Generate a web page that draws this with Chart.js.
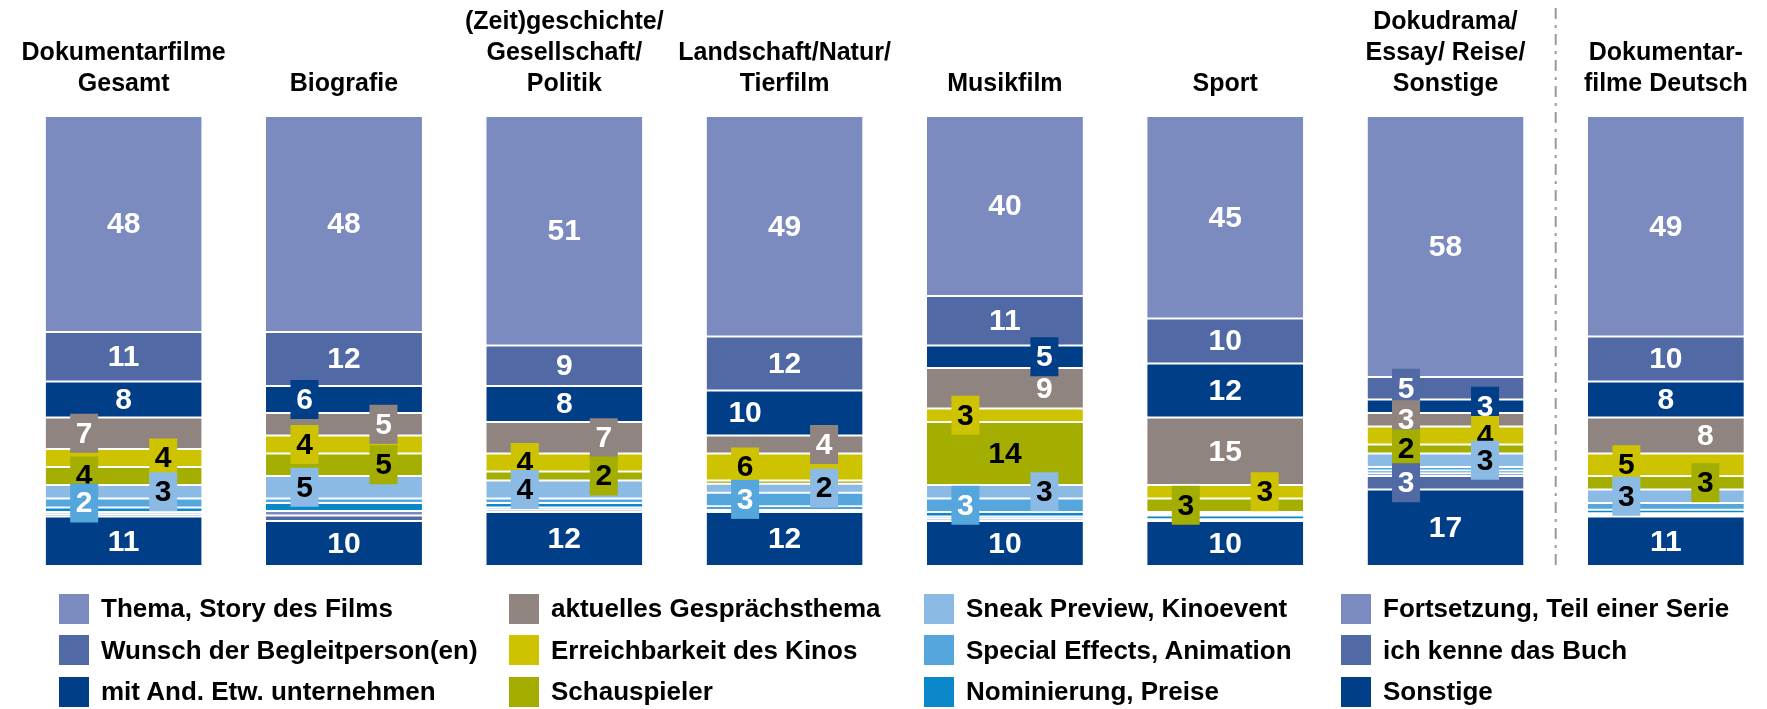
<!DOCTYPE html>
<html>
<head>
<meta charset="utf-8">
<script src="https://cdn.jsdelivr.net/npm/chart.js@4.4.1/dist/chart.umd.min.js"></script>
<style>
body{margin:0;overflow:hidden;background:#fff;}
#wrap{position:relative;width:1780px;height:709px;}
#legend{position:absolute;left:59px;top:588px;display:grid;grid-template-columns:450px 415px 417px 400px;grid-auto-flow:column;grid-template-rows:repeat(3,41.5px);font:bold 26px "Liberation Sans",Arial,sans-serif;color:#000;}
#legend div{display:flex;align-items:center;white-space:nowrap;}
#legend span{display:inline-block;width:30px;height:30px;margin-right:12px;flex:none;}
</style>
</head>
<body>
<div id="wrap">
<canvas id="chart"></canvas>
<div id="legend"></div>
</div>
<script>
// Kategorien (oben)
const categories=[['Dokumentarfilme','Gesamt'],['Biografie'],['(Zeit)geschichte/','Gesellschaft/','Politik'],['Landschaft/Natur/','Tierfilm'],['Musikfilm'],['Sport'],['Dokudrama/','Essay/ Reise/','Sonstige'],['Dokumentar-','filme Deutsch']];

// Reihen, Reihenfolge wie Legende (oben nach unten im Balken)
const seriesNames=['Thema, Story des Films','Wunsch der Begleitperson(en)','mit And. Etw. unternehmen','aktuelles Gesprächsthema','Erreichbarkeit des Kinos','Schauspieler','Sneak Preview, Kinoevent','Special Effects, Animation','Nominierung, Preise','Fortsetzung, Teil einer Serie','ich kenne das Buch','Sonstige'];
const thema=[48,48,51,49,40,45,58,49];
const wunsch=[11,12,9,12,11,10,5,10];
const mitAnd=[8,6,8,10,5,12,3,8];
const aktuell=[7,5,7,4,9,15,3,8];
const erreich=[4,4,4,6,3,3,4,5];
const schausp=[4,5,2,0.7,14,3,2,3];
const sneak=[3,5,4,2,3,0.4,3,3];
const special=[2,1,1,3,3,0.4,0.8,1.5];
const nomin=[1,1.8,1,0.8,1,0.8,0.6,0.8];
const fortsetz=[0.5,1,0.5,0.3,0.5,0.2,0.6,0.4];
const buch=[0.5,1.2,0.5,0.2,0.5,0.2,3,0.3];
const sonstige=[11,10,12,12,10,10,17,11];
const seriesValues=[thema,wunsch,mitAnd,aktuell,erreich,schausp,sneak,special,nomin,fortsetz,buch,sonstige];

const colors=['#7b8abf','#5169a5','#003f87','#908480','#cdc300','#a3ae00','#8bbbe5','#55a6dd','#0a88c9','#7b8abf','#5169a5','#003f87'];
const textColors=['#fff','#fff','#fff','#fff','#000','#000','#000','#fff','#fff','#fff','#fff','#fff'];

const FONT='"Liberation Sans", Arial, sans-serif';

// Datensätze: erster Datensatz liegt unten, daher umgedreht
const datasets=seriesNames.map((name,k)=>({
    label:name,
    data:seriesValues[k],
    backgroundColor:colors[k],
    labelColor:textColors[k],
    borderColor:'#fff',
    borderWidth:{top:1,bottom:1,left:0,right:0},
    borderSkipped:false,
    barPercentage:0.708,
    categoryPercentage:1
})).reverse();

// Werte in die Segmente schreiben, kleine Werte in Kästchen links/rechts
// (abwechselnd, das unterste Kästchen steht links)
const OFF=39.5, BOX_W=28, BOX_H=39, TXT_H=26;
const segLabels={
    id:'segLabels',
    afterDatasetsDraw(chart){
        const ctx=chart.ctx;
        const ds=chart.data.datasets;
        ctx.save();
        ctx.font='bold 30px '+FONT;
        ctx.textAlign='center';
        ctx.textBaseline='middle';
        for(let i=0;i<chart.data.labels.length;i++){
            let boxes=[],inl=[];
            for(let d=ds.length-1;d>=0;d--){
                let v=ds[d].data[i];
                if(v<2) continue;
                let bar=chart.getDatasetMeta(d).data[i];
                let item={v:Math.round(v),x:bar.x,cx:bar.x,cy:(bar.y+bar.base)/2,bg:ds[d].backgroundColor,fg:ds[d].labelColor};
                if(v>=8) inl.push(item); else boxes.push(item);
            }
            let side=-1;
            for(let b=boxes.length-1;b>=0;b--){ boxes[b].cx=boxes[b].x+side*OFF; side=-side; }
            inl.forEach(it=>{
                let near=null,dist=1e9;
                boxes.forEach(b=>{
                    let dy=Math.abs(b.cy-it.cy);
                    if(dy<BOX_H/2+TXT_H/2 && dy<dist){ dist=dy; near=b; }
                });
                if(near) it.cx+= near.cx<it.x ? OFF : -OFF;
            });
            boxes.forEach(b=>{
                ctx.fillStyle=b.bg;
                ctx.fillRect(b.cx-BOX_W/2,b.cy-BOX_H/2,BOX_W,BOX_H);
                ctx.fillStyle=b.fg;
                ctx.fillText(String(b.v),b.cx,b.cy+1);
            });
            inl.forEach(it=>{
                ctx.fillStyle=it.fg;
                ctx.fillText(String(it.v),it.cx,it.cy+1);
            });
        }
        ctx.restore();
    }
};

// gestrichelte Trennlinie vor "Dokumentarfilme Deutsch"
const separator={
    id:'separator',
    afterDraw(chart){
        const x=chart.scales.x;
        const px=(x.getPixelForValue(6)+x.getPixelForValue(7))/2;
        const ctx=chart.ctx;
        ctx.save();
        ctx.strokeStyle='#9a9a9a';
        ctx.lineWidth=2;
        ctx.setLineDash([11,6,3,6]);
        ctx.beginPath();
        ctx.moveTo(px,8);
        ctx.lineTo(px,chart.chartArea.bottom);
        ctx.stroke();
        ctx.restore();
    }
};

new Chart(document.getElementById('chart'),{
    type:'bar',
    data:{labels:categories,datasets:datasets},
    options:{
        responsive:true,
        maintainAspectRatio:false,
        animation:false,
        devicePixelRatio:1,
        layout:{padding:{left:13.5,right:4,top:0,bottom:143}},
        plugins:{legend:{display:false},tooltip:{enabled:false}},
        scales:{
            x:{
                position:'top',
                stacked:true,
                grid:{display:false,drawTicks:false},
                border:{display:false},
                ticks:{color:'#000',font:{family:FONT,size:25,weight:'bold',lineHeight:1.24},maxRotation:0,autoSkip:false,padding:16},
                afterFit:s=>{s.height=116;}
            },
            y:{display:false,stacked:true,min:0,max:100}
        }
    },
    plugins:[segLabels,separator]
});

// Legende spaltenweise
const legend=document.getElementById('legend');
seriesNames.forEach((name,k)=>{
    let el=document.createElement('div');
    el.innerHTML='<span style="background:'+colors[k]+'"></span>'+name;
    legend.appendChild(el);
});
</script>
</body>
</html>
